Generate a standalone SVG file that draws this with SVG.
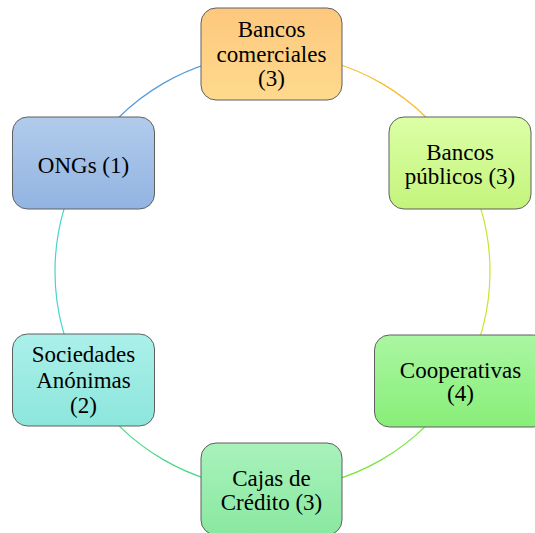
<svg xmlns="http://www.w3.org/2000/svg" width="535" height="533" viewBox="0 0 535 533">
<defs>
<linearGradient id="gTop" x1="0" y1="0" x2="0" y2="1"><stop offset="0" stop-color="#FDC87E"/><stop offset="1" stop-color="#FFDA8C"/></linearGradient>
<linearGradient id="gRU" x1="0" y1="0" x2="0" y2="1"><stop offset="0" stop-color="#DBFFA6"/><stop offset="1" stop-color="#C4F47C"/></linearGradient>
<linearGradient id="gRL" x1="0" y1="0" x2="0" y2="1"><stop offset="0" stop-color="#AAF6A2"/><stop offset="1" stop-color="#88EE78"/></linearGradient>
<linearGradient id="gB" x1="0" y1="0" x2="0" y2="1"><stop offset="0" stop-color="#A8F2BC"/><stop offset="1" stop-color="#8AE8A0"/></linearGradient>
<linearGradient id="gLL" x1="0" y1="0" x2="0" y2="1"><stop offset="0" stop-color="#ABF0EA"/><stop offset="1" stop-color="#8CE6DC"/></linearGradient>
<linearGradient id="gLU" x1="0" y1="0" x2="0" y2="1"><stop offset="0" stop-color="#B1CBEB"/><stop offset="1" stop-color="#92B4E2"/></linearGradient>
</defs>
<style>
.node rect{stroke:#5f5f5f;stroke-width:1}
.node text{font-family:"Liberation Serif","Times New Roman",serif;font-size:23px;fill:#000;text-anchor:middle}
.arc{fill:none;stroke-width:1.2}
</style>
<g id="connectors">
<path class="arc" stroke="#F5BC2C" d="M272.5,54 A217.5,217.5 0 0 1 460.86,162.75"/>
<path class="arc" stroke="#C6E62C" d="M460.86,162.75 A217.5,217.5 0 0 1 460.86,380.25"/>
<path class="arc" stroke="#78E43C" d="M460.86,380.25 A217.5,217.5 0 0 1 272.5,489"/>
<path class="arc" stroke="#4CD886" d="M272.5,489 A217.5,217.5 0 0 1 84.14,380.25"/>
<path class="arc" stroke="#44D6CC" d="M84.14,380.25 A217.5,217.5 0 0 1 84.14,162.75"/>
<path class="arc" stroke="#5A9AD6" d="M84.14,162.75 A217.5,217.5 0 0 1 272.5,54"/>
</g>
<g id="node-bancos-comerciales" class="node">
<rect x="201" y="8" width="141" height="92" rx="15" fill="url(#gTop)"/>
<text x="271.5" y="37">Bancos</text>
<text x="271.5" y="62">comerciales</text>
<text x="271.5" y="86">(3)</text>
</g>
<g id="node-bancos-publicos" class="node">
<rect x="389" y="117" width="142" height="92" rx="15" fill="url(#gRU)"/>
<text x="460" y="160">Bancos</text>
<text x="460" y="184">públicos (3)</text>
</g>
<g id="node-cooperativas" class="node">
<rect x="374.5" y="335" width="174" height="92" rx="15" fill="url(#gRL)"/>
<text x="460.5" y="378">Cooperativas</text>
<text x="460.5" y="401">(4)</text>
</g>
<g id="node-cajas" class="node">
<rect x="201" y="443" width="141" height="92" rx="15" fill="url(#gB)"/>
<text x="271.5" y="485.5">Cajas de</text>
<text x="271.5" y="509.5">Crédito (3)</text>
</g>
<g id="node-sociedades" class="node">
<rect x="12.5" y="334" width="142" height="92" rx="15" fill="url(#gLL)"/>
<text x="83.5" y="362">Sociedades</text>
<text x="83.5" y="388">Anónimas</text>
<text x="83.5" y="413">(2)</text>
</g>
<g id="node-ongs" class="node">
<rect x="12.5" y="117" width="142" height="92" rx="15" fill="url(#gLU)"/>
<text x="83.5" y="173">ONGs (1)</text>
</g>
</svg>
